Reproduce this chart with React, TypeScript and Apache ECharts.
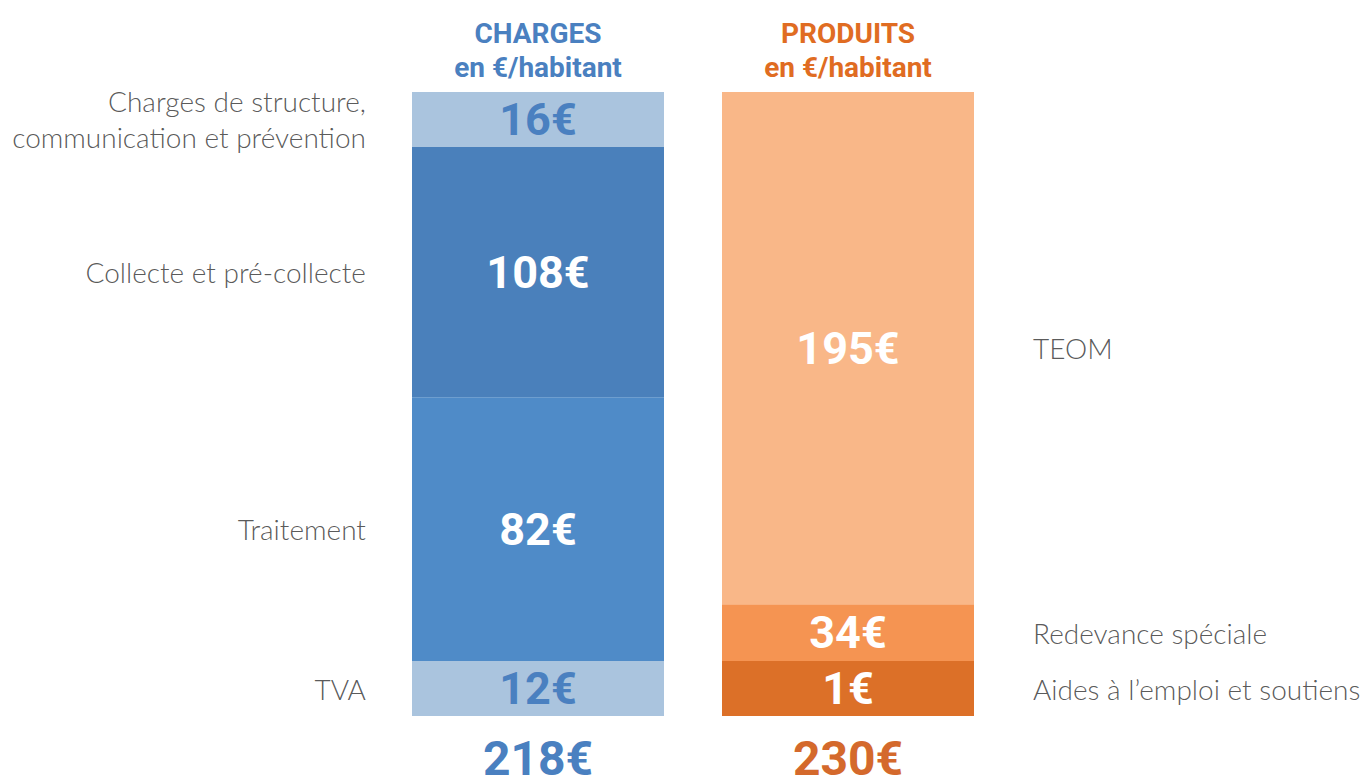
import { useEffect, useRef } from "react";
import * as echarts from "echarts";

// Columns of the infographic
const columns = ["CHARGES", "PRODUITS"];
const columnSubtitle = "en €/habitant";

// Charges (€/habitant), listed bottom to top
const chargesNames = [
  "TVA",
  "Traitement",
  "Collecte et pré-collecte",
  "Charges de structure,\ncommunication et prévention",
];
const chargesValues = [12, 82, 108, 16];
// Share (%) of the bar height each block takes in the picture (the infographic is not to scale)
const chargesBarShare = [8.8, 42.3, 40.1, 8.8];

// Produits (€/habitant), listed bottom to top
const produitsNames = ["Aides à l’emploi et soutiens", "Redevance spéciale", "TEOM"];
const produitsValues = [1, 34, 195];
const produitsBarShare = [8.8, 9.1, 82.1];

const chargesColors = ["#aac4de", "#4f8bc8", "#4a80bb", "#aac4de"];
const chargesLabelColors = ["#4a80c0", "#ffffff", "#ffffff", "#4a80c0"];
const produitsColors = ["#dc7028", "#f59452", "#f9b788"];
const BLUE = "#4a80c0";
const ORANGE = "#e06c22";
const ORANGE_TOTAL = "#d4692c";

const sum = (a: number[]) => a.reduce((s, v) => s + v, 0);

export default function App() {
  const ref = useRef<HTMLDivElement>(null);

  useEffect(() => {
    if (!ref.current) return;
    const chart = echarts.init(ref.current, undefined, { renderer: "svg" });

    const valueLabel = (color: string, text: string) => ({
      show: true,
      position: "inside",
      formatter: text,
      color,
      fontSize: 45,
      fontWeight: "bold",
      fontFamily: "Roboto",
    });

    const series: any[] = [];
    chargesValues.forEach((v, i) => {
      series.push({
        type: "bar",
        name: chargesNames[i],
        stack: "total",
        barWidth: 252,
        silent: true,
        data: [chargesBarShare[i], "-"],
        itemStyle: { color: chargesColors[i] },
        label: valueLabel(chargesLabelColors[i], `${v}€`),
      });
    });
    produitsValues.forEach((v, i) => {
      series.push({
        type: "bar",
        name: produitsNames[i],
        stack: "total",
        barWidth: 252,
        silent: true,
        data: ["-", produitsBarShare[i]],
        itemStyle: { color: produitsColors[i] },
        label: valueLabel("#ffffff", `${v}€`),
      });
    });

    const mids = (shares: number[], names: string[], x: number) => {
      let acc = 0;
      return shares.map((s, i) => {
        const d = { value: [x, acc + s / 2], name: names[i] };
        acc += s;
        return d;
      });
    };

    const nameLabel = {
      show: true,
      formatter: "{b}",
      color: "#2e2e2e",
      fontSize: 28,
      fontWeight: 300,
      fontFamily: "Lato",
      lineHeight: 36,
    };

    series.push({
      type: "scatter",
      silent: true,
      symbolSize: 0.1,
      itemStyle: { color: "transparent" },
      data: mids(chargesBarShare, chargesNames, 0),
      label: { ...nameLabel, position: "left", distance: 172, align: "right" },
    });
    series.push({
      type: "scatter",
      silent: true,
      symbolSize: 0.1,
      itemStyle: { color: "transparent" },
      data: mids(produitsBarShare, produitsNames, 1),
      label: { ...nameLabel, position: "right", distance: 185, align: "left" },
    });

    const totals = [sum(chargesValues), sum(produitsValues)];

    chart.setOption({
      animation: false,
      textStyle: { fontFamily: "Roboto" },
      grid: { left: 383, width: 620, top: 92, height: 624, outerBoundsMode: "none", containLabel: false },
      xAxis: [
        {
          type: "category",
          data: columns,
          position: "top",
          axisLine: { show: false },
          axisTick: { show: false },
          splitLine: { show: false },
          axisLabel: {
            margin: 8,
            formatter: (val: string, idx: number) =>
              idx === 0
                ? `{b|${val}}\n{b|${columnSubtitle}}`
                : `{o|${val}}\n{o|${columnSubtitle}}`,
            rich: {
              b: { color: BLUE, fontSize: 28, fontWeight: "bold", lineHeight: 34, fontFamily: "Roboto" },
              o: { color: ORANGE, fontSize: 28, fontWeight: "bold", lineHeight: 34, fontFamily: "Roboto" },
            },
          },
        },
        {
          type: "category",
          data: columns,
          position: "bottom",
          axisLine: { show: false },
          axisTick: { show: false },
          splitLine: { show: false },
          axisLabel: {
            margin: 18,
            formatter: (_val: string, idx: number) =>
              idx === 0 ? `{b|${totals[0]}€}` : `{o|${totals[1]}€}`,
            rich: {
              b: { color: BLUE, fontSize: 48, fontWeight: "bold", lineHeight: 48, fontFamily: "Roboto" },
              o: { color: ORANGE_TOTAL, fontSize: 48, fontWeight: "bold", lineHeight: 48, fontFamily: "Roboto" },
            },
          },
        },
      ],
      yAxis: {
        type: "value",
        min: 0,
        max: 100,
        show: false,
        splitLine: { show: false },
      },
      series,
    });

    return () => chart.dispose();
  }, []);

  return (
    <div
      ref={ref}
      style={{ position: "fixed", left: 0, top: 0, width: 1370, height: 776, background: "#ffffff" }}
    />
  );
}
